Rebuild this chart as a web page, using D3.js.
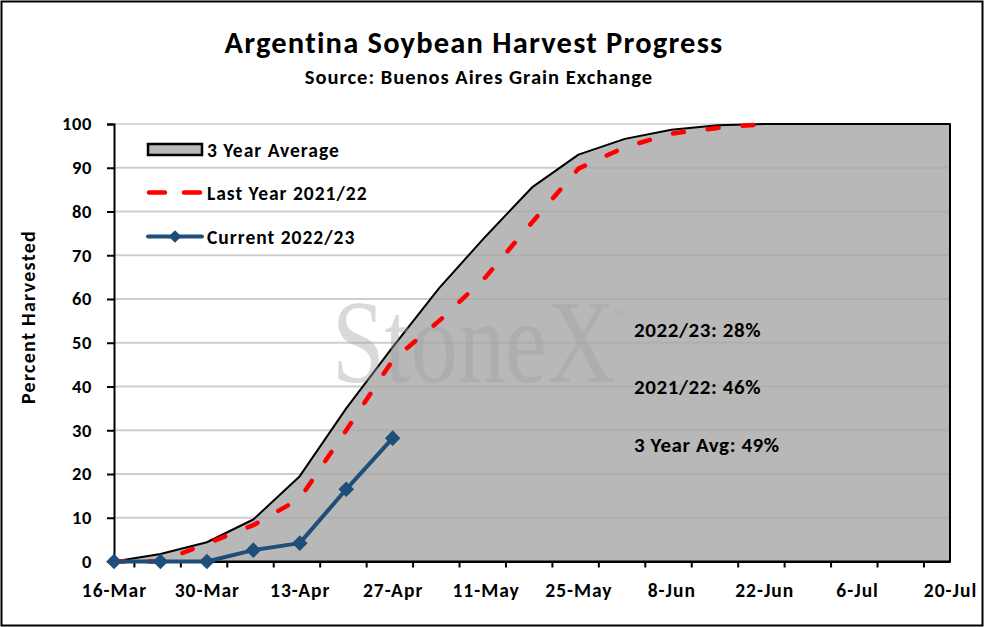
<!DOCTYPE html>
<html>
<head>
<meta charset="utf-8">
<script src="https://cdn.jsdelivr.net/npm/d3@7"></script>
<style>
  body { margin: 0; background: #fff; }
  text { font-family: Carlito, Lato, "Open Sans", sans-serif; font-weight: bold; }
</style>
</head>
<body>
<svg id="canvas"></svg>
<script>
// weekly dates, 16-Mar to 20-Jul
let dates = ['2023-03-16','2023-03-23','2023-03-30','2023-04-06','2023-04-13','2023-04-20','2023-04-27',
             '2023-05-04','2023-05-11','2023-05-18','2023-05-25','2023-06-01','2023-06-08','2023-06-15',
             '2023-06-22','2023-06-29','2023-07-06','2023-07-13','2023-07-20'];
let avgValues = [0, 1.7, 4.4, 9.6, 19.5, 35, 49, 62.5, 74.3, 85.5, 93, 96.6, 98.7, 99.7, 100, 100, 100, 100, 100];
let lastValues = [0, 0, 4.1, 8.3, 14.4, 30, 46, 55, 65, 77.5, 89.8, 94.7, 97.8, 99.1, 100];
let currentValues = [0, 0, 0, 2.6, 4.2, 16.5, 28.2];
let yTicks = [0, 10, 20, 30, 40, 50, 60, 70, 80, 90, 100];
let xLabelDates = ['2023-03-16','2023-03-30','2023-04-13','2023-04-27','2023-05-11','2023-05-25',
                   '2023-06-08','2023-06-22','2023-07-06','2023-07-20'];
let legendNames = ['3 Year Average', 'Last Year 2021/22', 'Current 2022/23'];
let notes = ['2022/23: 28%', '2021/22: 46%', '3 Year Avg: 49%'];

let width = 984;
let height = 627;
let plotLeft = 114, plotRight = 950, plotTop = 124, plotBottom = 561.5;

let parse = d3.timeParse('%Y-%m-%d');
let fmt = d3.timeFormat('%-d-%b');

let svg = d3.select('#canvas').attr('width', width).attr('height', height);

// outer frame
svg.append('rect').attr('x', 1.5).attr('y', 1.5).attr('width', width - 3).attr('height', height - 3)
    .attr('fill', '#fff').attr('stroke', '#000').attr('stroke-width', 2);

let xScale = d3.scaleTime().domain([parse(dates[0]), parse(dates[dates.length - 1])]).range([plotLeft, plotRight]);
let yScale = d3.scaleLinear().domain([0, 100]).range([plotBottom, plotTop]);

let avgData = dates.map((d, i) => ({date: parse(d), v: avgValues[i]}));
let lastData = lastValues.map((v, i) => ({date: parse(dates[i]), v: v}));
let curData = currentValues.map((v, i) => ({date: parse(dates[i]), v: v}));

// gridlines under the area
svg.append('g').selectAll('line').data(yTicks.slice(1)).enter().append('line')
    .attr('x1', plotLeft).attr('x2', plotRight)
    .attr('y1', d => yScale(d)).attr('y2', d => yScale(d))
    .attr('stroke', '#d9d9d9').attr('stroke-width', 2);

// 3 year average area
let area = d3.area().x(d => xScale(d.date)).y0(yScale(0)).y1(d => yScale(d.v));
svg.append('path').datum(avgData).attr('d', area)
    .attr('fill', '#b8b8b8').attr('stroke', '#000').attr('stroke-width', 2).attr('stroke-linejoin', 'round');

// faint gridlines showing through the area
svg.append('g').selectAll('line').data(yTicks.slice(1, -1)).enter().append('line')
    .attr('x1', plotLeft).attr('x2', plotRight - 1)
    .attr('y1', d => yScale(d)).attr('y2', d => yScale(d))
    .attr('stroke', '#000').attr('stroke-opacity', 0.05).attr('stroke-width', 2);

// watermark (squeezed horizontally with a transform)
svg.append('text').attr('transform', 'translate(332,382) scale(0.8,1)')
    .style('font-family', '"Liberation Serif", "DejaVu Serif", serif').style('font-weight', 'normal')
    .attr('font-size', 118).attr('fill', '#9aa0a6').attr('fill-opacity', 0.4).text('StoneX');
svg.append('text').attr('x', 614).attr('y', 318)
    .style('font-family', '"Liberation Sans", sans-serif').style('font-weight', 'normal')
    .attr('font-size', 13).attr('fill', '#9aa0a6').attr('fill-opacity', 0.4).text('®');

let line = d3.line().x(d => xScale(d.date)).y(d => yScale(d.v));

// last year dashed
svg.append('path').datum(lastData).attr('d', line)
    .attr('fill', 'none').attr('stroke', '#ff0000').attr('stroke-width', 4.5)
    .attr('stroke-dasharray', '11 24').attr('stroke-linecap', 'round').attr('stroke-linejoin', 'round');

// axes
let yAxis = d3.axisLeft(yScale).tickValues(yTicks).tickSize(7).tickPadding(15);
svg.append('g').attr('transform', 'translate(' + plotLeft + ',0)').call(yAxis)
    .call(g => g.select('.domain').attr('stroke-width', 2))
    .call(g => g.selectAll('.tick line').attr('stroke-width', 2))
    .call(g => g.selectAll('.tick text').attr('font-size', 18.5).attr('letter-spacing', 0.6).attr('fill', '#000'));

let xAxis = d3.axisBottom(xScale).ticks(d3.timeWeek.every(1)).tickSize(6).tickSizeOuter(0).tickFormat('');
svg.append('g').attr('transform', 'translate(0,' + plotBottom + ')').call(xAxis)
    .call(g => g.select('.domain').attr('stroke-width', 2))
    .call(g => g.selectAll('.tick line').attr('stroke-width', 2));

svg.append('g').selectAll('text').data(xLabelDates).enter().append('text')
    .attr('x', d => xScale(parse(d)) + 0.5).attr('y', 597).attr('text-anchor', 'middle')
    .attr('font-size', 19.5).attr('letter-spacing', 1).text(d => fmt(parse(d)));

// current year line with diamonds
svg.append('path').datum(curData).attr('d', line)
    .attr('fill', 'none').attr('stroke', '#1f4e79').attr('stroke-width', 4).attr('stroke-linejoin', 'round');
svg.append('g').selectAll('path').data(curData).enter().append('path')
    .attr('transform', d => 'translate(' + xScale(d.date) + ',' + yScale(d.v) + ') rotate(45)')
    .attr('d', 'M-5.5,-5.5H5.5V5.5H-5.5Z').attr('fill', '#1f4e79');

// titles
svg.append('text').attr('x', 474).attr('y', 53).attr('text-anchor', 'middle')
    .attr('font-size', 30.5).attr('letter-spacing', 1.2).text('Argentina Soybean Harvest Progress');
svg.append('text').attr('x', 479).attr('y', 84).attr('text-anchor', 'middle')
    .attr('font-size', 20.5).attr('letter-spacing', 1).text('Source: Buenos Aires Grain Exchange');
svg.append('text').attr('transform', 'translate(35,317) rotate(-90)').attr('text-anchor', 'middle')
    .attr('font-size', 20).attr('letter-spacing', 1.3).style('font-weight', 600).text('Percent Harvested');

// legend
let legY = [149.5, 192.5, 236.5];
let leg = svg.append('g');
leg.append('rect').attr('x', 148).attr('y', 144).attr('width', 54).attr('height', 11)
    .attr('fill', '#b8b8b8').attr('stroke', '#000').attr('stroke-width', 2.5);
leg.append('line').attr('x1', 149).attr('x2', 200).attr('y1', legY[1]).attr('y2', legY[1])
    .attr('stroke', '#ff0000').attr('stroke-width', 4.5).attr('stroke-dasharray', '16 19')
    .attr('stroke-linecap', 'round');
leg.append('line').attr('x1', 148).attr('x2', 202).attr('y1', legY[2]).attr('y2', legY[2])
    .attr('stroke', '#1f4e79').attr('stroke-width', 4).attr('stroke-linecap', 'round');
leg.append('path').attr('transform', 'translate(175,' + legY[2] + ') rotate(45)')
    .attr('d', 'M-4.5,-4.5H4.5V4.5H-4.5Z').attr('fill', '#1f4e79');
leg.selectAll('text').data(legendNames).enter().append('text')
    .attr('x', 207).attr('y', (d, i) => legY[i] + 7).attr('font-size', 19.5).attr('letter-spacing', 1)
    .text(d => d);

// annotations
let noteY = [337, 394, 452];
svg.append('g').selectAll('text').data(notes).enter().append('text')
    .attr('x', 634).attr('y', (d, i) => noteY[i]).attr('font-size', 21).attr('letter-spacing', 0.6)
    .text(d => d);
</script>
</body>
</html>
